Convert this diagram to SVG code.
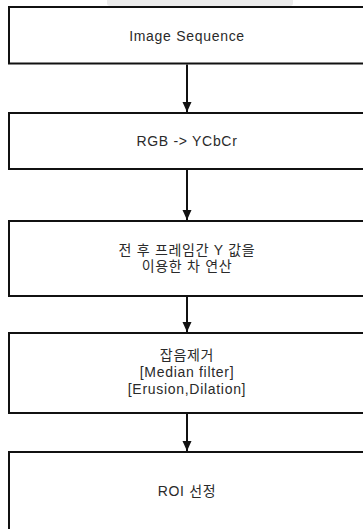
<svg xmlns="http://www.w3.org/2000/svg" width="363" height="529" viewBox="0 0 363 529">
<style>
.box{fill:#fff;stroke:#111;stroke-width:2}
.lbl{font-family:"Liberation Sans","Noto Sans CJK KR",sans-serif;font-size:14px;fill:#2a2a2a;text-anchor:middle;letter-spacing:0.7px}
.conn{stroke:#111;stroke-width:2;fill:none}
</style>
<defs>
<marker id="ah" markerUnits="userSpaceOnUse" markerWidth="10" markerHeight="10" viewBox="0 0 10 10" refX="10" refY="5" orient="auto">
<polygon points="0,0.5 10,5 0,9.5" fill="#111"/>
</marker>
</defs>
<rect width="363" height="529" fill="#fff"/>
<rect x="107" y="-6" width="186" height="12" rx="3" fill="#ececec"/>
<g id="n1"><rect class="box" x="9" y="7" width="356" height="56.5"/><text class="lbl" x="187" y="41">Image Sequence</text></g>
<g id="n2"><rect class="box" x="9" y="113" width="356" height="56"/><text class="lbl" x="187" y="146">RGB -&gt; YCbCr</text></g>
<g id="n3"><rect class="box" x="9" y="221" width="356" height="75"/><text class="lbl" x="187" y="255">전 후 프레임간 Y 값을</text><text class="lbl" x="187" y="271">이용한 차 연산</text></g>
<g id="n4"><rect class="box" x="9" y="333" width="356" height="80"/><text class="lbl" x="187" y="360">잡음제거</text><text class="lbl" x="187" y="377">[Median filter]</text><text class="lbl" x="187" y="394">[Erusion,Dilation]</text></g>
<g id="n5"><rect class="box" x="9" y="452" width="356" height="82"/><text class="lbl" x="187" y="496">ROI 선정</text></g>
<g id="connectors">
<path class="conn" d="M187 64.5V112" marker-end="url(#ah)"/>
<path class="conn" d="M187 170V220" marker-end="url(#ah)"/>
<path class="conn" d="M187 297V332" marker-end="url(#ah)"/>
<path class="conn" d="M187 414V451" marker-end="url(#ah)"/>
</g>
</svg>
